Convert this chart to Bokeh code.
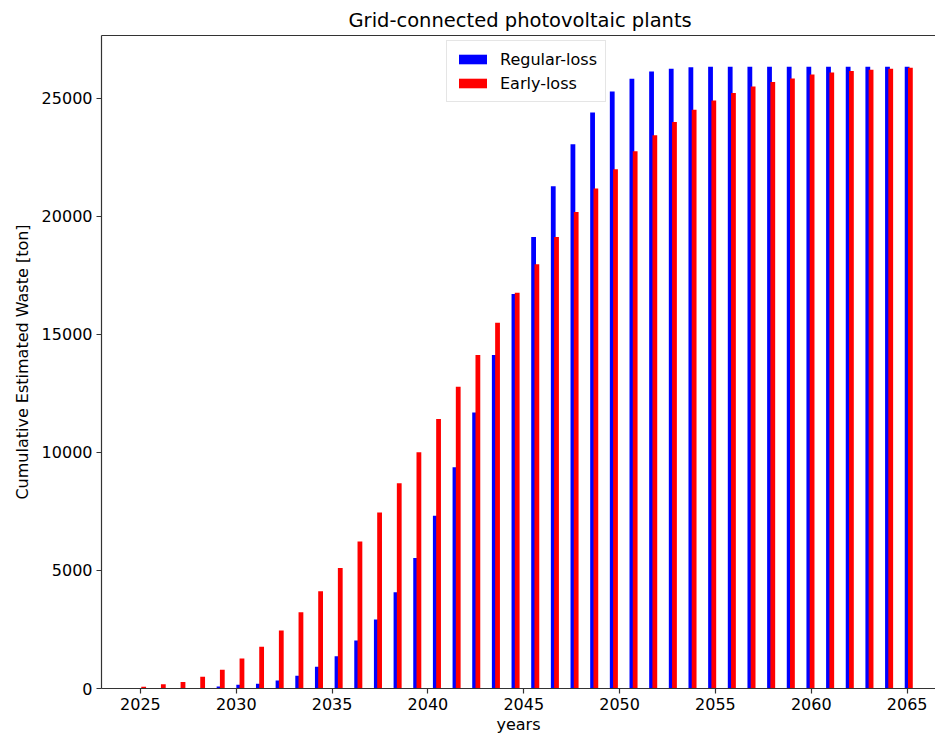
import numpy as np
from bokeh.plotting import figure
from bokeh.models import (Range1d, FixedTicker, LinearAxis, Legend, LegendItem,
                          ColumnDataSource)
from bokeh.transform import dodge
from bokeh.embed import file_html
from bokeh.resources import INLINE

# ---- data ----
years = np.linspace(2025, 2065, 40)
regular_loss = [0, 5, 15, 25, 85, 155, 200, 340, 535, 918,
                1366, 2030, 2920, 4075, 5528, 7318, 9378, 11688, 14129, 16709,
                19133, 21277, 23054, 24408, 25296, 25833, 26142, 26255, 26325, 26340,
                26340, 26340, 26340, 26340, 26340, 26340, 26340, 26340, 26340, 26340]
early_loss = [70, 180, 280, 495, 790, 1270, 1765, 2455, 3230, 4116,
              5105, 6231, 7458, 8700, 10012, 11421, 12788, 14129, 15495, 16765,
              17978, 19133, 20190, 21180, 21997, 22758, 23435, 23998, 24521, 24915,
              25225, 25507, 25691, 25846, 26015, 26100, 26156, 26213, 26255, 26300]
x_ticks = [2025, 2030, 2035, 2040, 2045, 2050, 2055, 2060, 2065]
y_ticks = [0, 5000, 10000, 15000, 20000, 25000]
series_names = ["Regular-loss", "Early-loss"]
series_colors = ["#0000ff", "#ff0000"]

FONT = "DejaVu Sans"

src = ColumnDataSource(dict(x=years, reg=regular_loss, early=early_loss))

p = figure(width=935, height=736, output_backend="svg", toolbar_location=None,
           x_range=Range1d(2022.97, 2066.48), y_range=Range1d(0, 27665),
           title="Grid-connected photovoltaic plants",
           min_border_left=101, min_border_right=0, min_border_top=35,
           min_border_bottom=47, background_fill_color="white",
           border_fill_color="white")
p.outline_line_color = None
p.grid.visible = False

r_reg = p.vbar(x="x", top="reg", width=0.25, source=src,
               fill_color=series_colors[0], line_color=None)
r_early = p.vbar(x=dodge("x", 0.17), top="early", width=0.25, source=src,
                 fill_color=series_colors[1], line_color=None)

p.title.text_font = FONT
p.title.text_font_size = "19.5px"
p.title.text_font_style = "normal"
p.title.text_color = "black"
p.title.align = "left"
p.title.offset = 247
p.title.standoff = 8

for ax, ticks, label in ((p.xaxis[0], x_ticks, "years"),
                         (p.yaxis[0], y_ticks, "Cumulative Estimated Waste [ton]")):
    ax.ticker = FixedTicker(ticks=ticks)
    ax.axis_label = label
    ax.axis_label_text_font = FONT
    ax.axis_label_text_font_size = "16px"
    ax.axis_label_text_font_style = "normal"
    ax.axis_label_text_color = "black"
    ax.major_label_text_font = FONT
    ax.major_label_text_font_size = "16px"
    ax.major_label_text_color = "black"
    ax.major_tick_out = 5
    ax.major_tick_in = 0
    ax.minor_tick_line_color = None
    ax.axis_line_color = "#333333"
    ax.axis_line_width = 1.2
    ax.major_tick_line_color = "#333333"
    ax.major_tick_line_width = 1.2

p.xaxis[0].major_label_standoff = 4
p.xaxis[0].axis_label_standoff = 2
p.yaxis[0].major_label_standoff = 4
p.yaxis[0].axis_label_standoff = 7

top_axis = LinearAxis(ticker=FixedTicker(ticks=[]), major_label_text_font_size="0px",
                      major_tick_line_color=None, minor_tick_line_color=None,
                      axis_line_color="#333333", axis_line_width=1.2,
                      major_label_standoff=0)
p.add_layout(top_axis, "above")
p.above = [top_axis] + [r for r in p.above if r is not top_axis]

legend = Legend(items=[LegendItem(label=series_names[0], renderers=[r_reg]),
                       LegendItem(label=series_names[1], renderers=[r_early])],
                location=(345, 586), orientation="vertical",
                glyph_width=35, glyph_height=12, label_height=20,
                label_standoff=10, spacing=4, padding=8, margin=0,
                label_text_font=FONT, label_text_font_size="16px",
                label_text_color="black",
                border_line_color="#cccccc", border_line_width=1,
                background_fill_color="white", background_fill_alpha=0.8)
p.add_layout(legend, "center")

with open("out.html", "w") as f:
    f.write(file_html(p, INLINE))
